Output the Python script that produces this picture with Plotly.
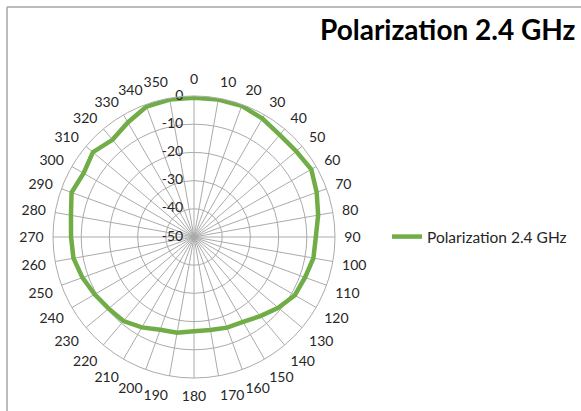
import plotly.graph_objects as go

angles = [0, 10, 20, 30, 40, 50, 60, 70, 80, 90, 100, 110, 120, 130, 140, 150, 160, 170,
          180, 190, 200, 210, 220, 230, 240, 250, 260, 270, 280, 290, 300, 310, 320, 330, 340, 350]
values = [-0.6, -0.5, -0.5, -1.5, -2.7, -2.7, -2.0, -3.7, -5.3, -6.8, -7.0, -8.1, -8.7, -11.0,
          -13.4, -15.2, -15.8, -16.5, -16.6, -15.5, -15.0, -13.0, -11.1, -10.5, -9.3, -7.9,
          -6.6, -6.4, -5.7, -3.8, -4.8, -3.2, -5.0, -3.1, -0.8, -0.5]
radial_ticks = [-50, -40, -30, -20, -10, 0]
series_name = "Polarization 2.4 GHz"
title_text = "Polarization 2.4 GHz"

FONT = "Lato, Open Sans, sans-serif"
TXT = "#262626"

fig = go.Figure()
fig.add_trace(go.Scatterpolar(
    r=values + values[:1],
    theta=angles + angles[:1],
    mode="lines",
    line=dict(color="#70AD47", width=4.5),
    name=series_name,
    showlegend=True,
    hoverinfo="skip",
))
# radial tick labels, placed left of the 0-degree spoke like Excel does
fig.add_trace(go.Scatterpolar(
    r=radial_ticks,
    theta=[0] * len(radial_ticks),
    mode="text",
    text=[str(v) + "\u00a0\u00a0\u00a0" for v in radial_ticks],
    textposition="middle left",
    textfont=dict(size=14, color=TXT, family=FONT),
    showlegend=False,
    hoverinfo="skip",
    cliponaxis=False,
))

W, H = 581, 411
cx, cy, R = 194, 237, 141
fig.update_layout(
    width=W, height=H,
    margin=dict(l=0, r=0, t=0, b=0),
    paper_bgcolor="white",
    plot_bgcolor="white",
    font=dict(family=FONT, size=14, color=TXT),
    polar=dict(
        domain=dict(x=[(cx - R) / W, (cx + R) / W], y=[(H - cy - R) / H, (H - cy + R) / H]),
        bgcolor="white",
        angularaxis=dict(
            rotation=90, direction="clockwise",
            tickmode="array", tickvals=angles, ticktext=[str(a) for a in angles],
            showgrid=True, gridcolor="#ababab", gridwidth=1,
            showline=True, linecolor="#ababab", linewidth=1,
            ticks="outside", ticklen=6, tickcolor="rgba(0,0,0,0)",
            tickfont=dict(size=14, color=TXT),
        ),
        radialaxis=dict(
            range=[-50, 0], tickmode="array", tickvals=radial_ticks,
            showticklabels=False,
            angle=90,
            showgrid=True, gridcolor="#ababab", gridwidth=1,
            showline=False, ticks="",
        ),
    ),
    legend=dict(
        x=387 / W, y=(H - 237) / H, xanchor="left", yanchor="middle",
        font=dict(size=15.5, color=TXT),
        bgcolor="rgba(0,0,0,0)", itemwidth=30,
    ),
    annotations=[dict(
        text="<b>" + title_text + "</b>", x=578 / W, y=1 - 29 / H,
        xref="paper", yref="paper", xanchor="right", yanchor="middle",
        showarrow=False, font=dict(size=28, color="#000000", family=FONT),
    )],
    shapes=[
        dict(type="line", xref="paper", yref="paper", x0=7 / W, x1=1.0, y0=1 - 7 / H, y1=1 - 7 / H,
             line=dict(color="#a6a6a6", width=1.5)),
        dict(type="line", xref="paper", yref="paper", x0=7 / W, x1=7 / W, y0=0, y1=1 - 7 / H,
             line=dict(color="#a6a6a6", width=1.5)),
    ],
)

fig.write_html("out.html", config={"displayModeBar": False},
               post_script="document.body.style.margin='0';document.body.style.overflow='hidden';")
